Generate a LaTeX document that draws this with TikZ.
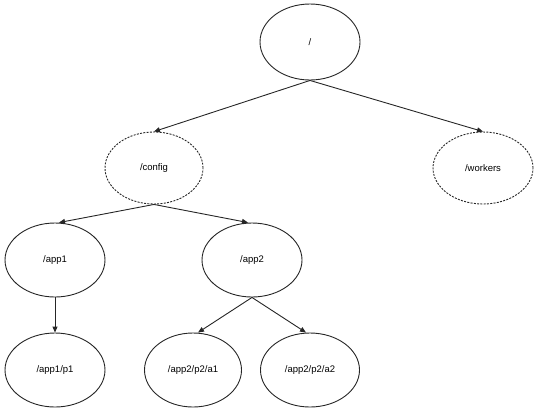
\documentclass[tikz,border=0pt]{standalone}
\usepackage{fontspec}
\setmainfont{Liberation Sans}
\usetikzlibrary{shapes.geometric,arrows.meta}
\begin{document}
\begin{tikzpicture}[x=1pt,y=-1pt,
  zn/.style={ellipse,draw=black!85,line width=0.9pt,minimum width=100pt,minimum height=74pt,inner sep=0pt,font=\fontsize{9.5}{11}\selectfont},
  zdash/.style={zn,dash pattern=on 2pt off 1.3pt},
  arr/.style={draw=black!85,line width=0.9pt,-{Triangle[length=6pt,width=5pt]}}]
\useasboundingbox (0,0) rectangle (535,413);
\node[zn,minimum height=76pt] (root) at (310,42) {/};
\node[zdash,minimum width=98pt,minimum height=72pt] (config) at (154,168) {/config};
\node[zdash,minimum height=72pt] (workers) at (483,168) {/workers};
\node[zn] (app1) at (55,260) {/app1};
\node[zn] (app2) at (252,260) {/app2};
\node[zn] (p1) at (55,370) {/app1/p1};
\node[zn,minimum width=97pt] (a1) at (193,370) {/app2/p2/a1};
\node[zn,minimum width=99pt] (a2) at (310,370) {/app2/p2/a2};
\draw[arr] (root.south) -- (config.north);
\draw[arr] (root.south) -- (workers.north);
\draw[arr] (config.south) -- ([xshift=4pt]app1.north);
\draw[arr] (config.south) -- ([xshift=-4pt]app2.north);
\draw[arr] (app1.south) -- (p1.north);
\draw[arr] (app2.south) -- ([xshift=5pt]a1.north);
\draw[arr] (app2.south) -- ([xshift=-4pt]a2.north);
\end{tikzpicture}
\end{document}
